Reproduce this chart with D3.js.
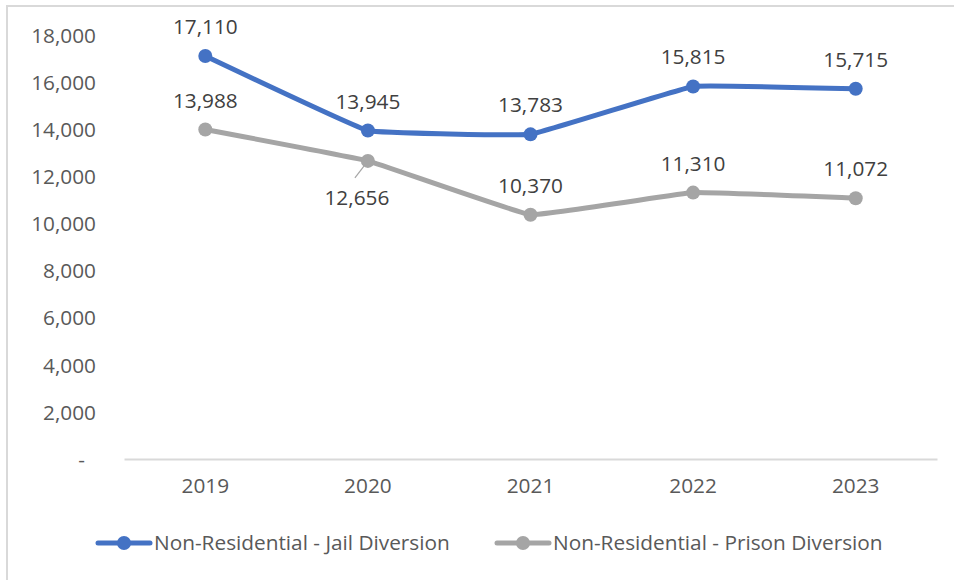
<!DOCTYPE html>
<html>
<head>
<meta charset="utf-8">
<script src="https://cdn.jsdelivr.net/npm/d3@7"></script>
<style>
  html, body { margin: 0; padding: 0; background: #fff; }
  svg { display: block; font-family: "Open Sans", "Lato", sans-serif; }
</style>
</head>
<body>
<svg id="chart" width="954" height="580"></svg>
<script>
// Annual participants by program type
const years = ["2019", "2020", "2021", "2022", "2023"];
const jailDiversion = [17110, 13945, 13783, 15815, 15715];
const prisonDiversion = [13988, 12656, 10370, 11310, 11072];
const yTicks = [0, 2000, 4000, 6000, 8000, 10000, 12000, 14000, 16000, 18000];
const seriesNames = ["Non-Residential - Jail Diversion", "Non-Residential - Prison Diversion"];
const seriesColors = ["#4472C4", "#A5A5A5"];
// label placement per point: "above" or "below"
const prisonLabelSide = ["above", "below", "above", "above", "above"];

const FONT = "'Open Sans', Lato, sans-serif";
const FS = "20.8px";

const svg = d3.select("#chart");

// chart frame
svg.append("rect")
  .attr("x", 7).attr("y", 6)
  .attr("width", 960).attr("height", 600)
  .attr("fill", "none").attr("stroke", "#d9d9d9").attr("stroke-width", 2);

const x = d3.scaleBand().domain(years).range([124, 937]);
const y = d3.scaleLinear().domain([0, 18000]).range([459, 35]);
const fmt = d3.format(",");

// y axis labels (no line, no gridlines)
const yAxis = d3.axisLeft(y).tickValues(yTicks)
  .tickFormat(d => d === 0 ? "-" : fmt(d)).tickSize(0).tickPadding(0);
const yg = svg.append("g").attr("transform", "translate(96,0)").call(yAxis);
yg.select(".domain").remove();
yg.selectAll("text").attr("fill", "#595959").style("font-size", FS)
  .attr("dy", "0.35em").attr("font-family", FONT);
yg.selectAll(".tick").filter(d => d === 0).select("text").attr("x", -11);

// x axis
const xAxis = d3.axisBottom(x).tickSize(0).tickPadding(19);
const xg = svg.append("g").attr("transform", "translate(0,459)").call(xAxis);
xg.select(".domain").attr("stroke", "#d9d9d9").attr("stroke-width", 2);
xg.selectAll("text").attr("fill", "#595959").style("font-size", FS)
  .attr("font-family", FONT);

const line = d3.line()
  .x((d, i) => x(years[i]) + x.bandwidth() / 2)
  .y(d => y(d))
  .curve(d3.curveCardinal.tension(0.8));

const allSeries = [prisonDiversion, jailDiversion];
const allColors = [seriesColors[1], seriesColors[0]];

allSeries.forEach((vals, s) => {
  const g = svg.append("g");
  g.append("path").datum(vals)
    .attr("d", line).attr("fill", "none")
    .attr("stroke", allColors[s]).attr("stroke-width", 5)
    .attr("stroke-linecap", "round").attr("stroke-linejoin", "round");
  g.selectAll("circle").data(vals).join("circle")
    .attr("cx", (d, i) => x(years[i]) + x.bandwidth() / 2)
    .attr("cy", d => y(d))
    .attr("r", 7).attr("fill", allColors[s]);
});

// data labels
function addLabels(vals, sides) {
  vals.forEach((v, i) => {
    const cx = x(years[i]) + x.bandwidth() / 2;
    const cy = y(v);
    const side = sides ? sides[i] : "above";
    if (side === "above") {
      svg.append("text").attr("x", cx).attr("y", cy - 22)
        .attr("text-anchor", "middle").attr("fill", "#404040")
        .style("font-size", FS).text(fmt(v));
    } else {
      // leader line to the label placed below-left
      svg.append("line")
        .attr("x1", cx - 3).attr("y1", cy + 4)
        .attr("x2", cx - 13).attr("y2", cy + 17)
        .attr("stroke", "#a5a5a5").attr("stroke-width", 1.2);
      svg.append("text").attr("x", cx - 11).attr("y", cy + 44)
        .attr("text-anchor", "middle").attr("fill", "#404040")
        .style("font-size", FS).text(fmt(v));
    }
  });
}
addLabels(jailDiversion, null);
addLabels(prisonDiversion, prisonLabelSide);

// legend
const legendItems = [
  { name: seriesNames[0], color: seriesColors[0], x0: 98 },
  { name: seriesNames[1], color: seriesColors[1], x0: 497 }
];
const ly = 543;
legendItems.forEach(it => {
  svg.append("line")
    .attr("x1", it.x0).attr("x2", it.x0 + 52)
    .attr("y1", ly).attr("y2", ly)
    .attr("stroke", it.color).attr("stroke-width", 5).attr("stroke-linecap", "round");
  svg.append("circle").attr("cx", it.x0 + 26).attr("cy", ly).attr("r", 7).attr("fill", it.color);
  svg.append("text").attr("x", it.x0 + 56).attr("y", ly).attr("dy", "0.35em")
    .attr("fill", "#595959").style("font-size", FS).text(it.name);
});
</script>
</body>
</html>
